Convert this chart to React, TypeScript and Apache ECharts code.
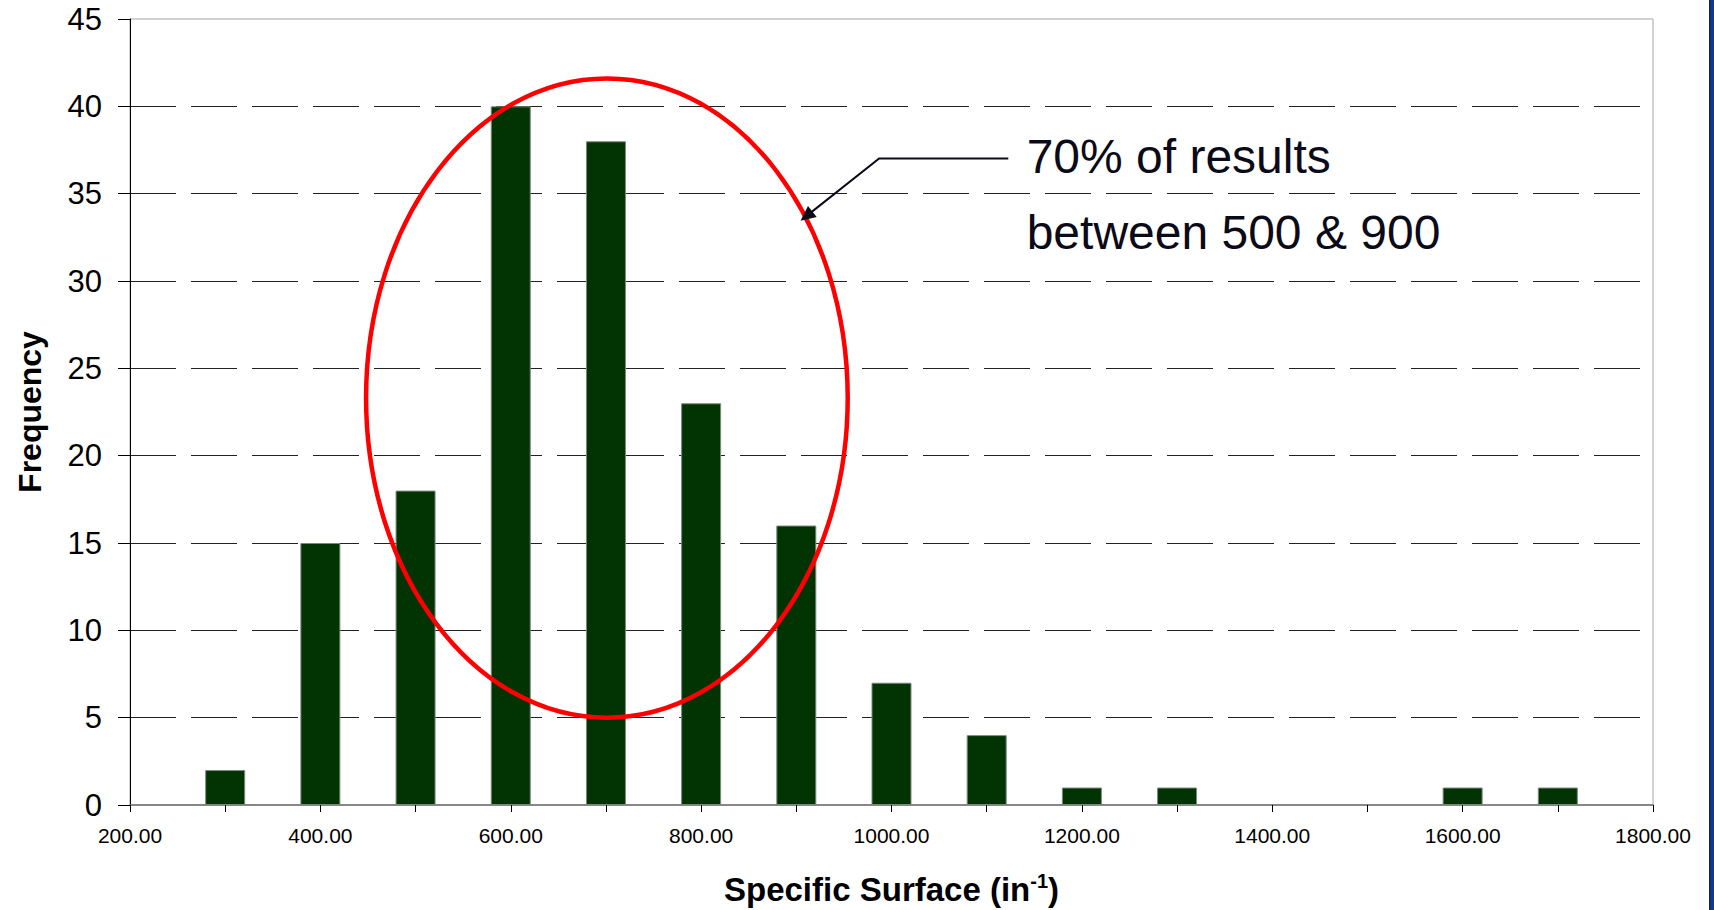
import React, { useEffect, useRef } from "react";
import * as echarts from "echarts";

// ---- data ----
const binCenters = [300, 400, 500, 600, 700, 800, 900, 1000, 1100, 1200, 1300, 1400, 1500, 1600, 1700];
const frequencies = [2, 15, 18, 40, 38, 23, 16, 7, 4, 1, 1, 0, 0, 1, 1];
const xAxisRange = [200, 1800];
const yAxisRange = [0, 45];

// ---- annotation (in data units) ----
const ellipseXRange = [448, 954];
const ellipseYRange = [5.0, 41.6];
const arrowTip = [904.5, 33.45];
const arrowElbow = [987, 37.02];
const arrowEnd = [1122.7, 37.02];
const annotationX = 1142;
const annotationLineY = [37.1, 32.8];
const annotationLines = ["70% of results", "between 500 & 900"];

const FONT = '"Liberation Sans", Arial, Helvetica, sans-serif';

export default function App() {
  const ref = useRef<HTMLDivElement>(null);

  useEffect(() => {
    if (!ref.current) return;
    const chart = echarts.init(ref.current, null, { renderer: "svg" });
    const barData = binCenters
      .map((x, i) => [x, frequencies[i]])
      .filter((d) => d[1] > 0);

    chart.setOption({
      animation: false,
      backgroundColor: "#ffffff",
      textStyle: { fontFamily: FONT, color: "#000" },
      grid: {
        left: 130,
        right: 61,
        top: 19,
        bottom: 105,
        show: true,
        outerBoundsMode: "none",
        containLabel: false,
        borderColor: "#a6a6a6",
        borderWidth: 1,
        backgroundColor: "transparent",
      },
      xAxis: {
        type: "value",
        min: xAxisRange[0],
        max: xAxisRange[1],
        interval: 100,
        name: "{a|Specific Surface (in}{b|-1}{a|)}",
        nameLocation: "middle",
        nameGap: 66,
        nameTextStyle: {
          rich: {
            a: { fontSize: 33, fontWeight: "bold", fontFamily: FONT, color: "#000", lineHeight: 37 },
            b: { fontSize: 20, fontWeight: "bold", fontFamily: FONT, color: "#000", verticalAlign: "top", lineHeight: 22 },
          },
        },
        axisLine: { show: true, lineStyle: { color: "#6e6e6e", width: 1.5 } },
        axisTick: { show: true, length: 7, lineStyle: { color: "#000", width: 1 } },
        axisLabel: {
          fontSize: 21,
          color: "#000",
          margin: 20,
          fontFamily: FONT,
          formatter: (v: number) => (v % 200 === 0 ? v.toFixed(2) : ""),
        },
        splitLine: { show: false },
      },
      yAxis: {
        type: "value",
        min: yAxisRange[0],
        max: yAxisRange[1],
        interval: 5,
        name: "Frequency",
        nameLocation: "middle",
        nameGap: 84,
        nameTextStyle: { fontSize: 32, fontWeight: "bold", color: "#000", fontFamily: FONT },
        axisLine: { show: true, lineStyle: { color: "#000", width: 1 } },
        axisTick: { show: true, length: 12, lineStyle: { color: "#000", width: 1 } },
        axisLabel: { fontSize: 31, color: "#000", margin: 28, fontFamily: FONT },
        splitLine: {
          show: true,
          showMinLine: false,
          showMaxLine: false,
          lineStyle: { color: "#222", width: 1, type: [46, 15] },
        },
      },
      series: [
        {
          type: "bar",
          data: barData,
          barWidth: 40,
          itemStyle: { color: "#023302", borderColor: "#7a8a7a", borderWidth: 1 },
          z: 3,
        },
      ],
    });

    const px = (v: number[]) => chart.convertToPixel({ gridIndex: 0 }, v) as number[];
    const e0 = px([ellipseXRange[0], ellipseYRange[0]]);
    const e1 = px([ellipseXRange[1], ellipseYRange[1]]);
    const tip = px(arrowTip);
    const elbow = px(arrowElbow);
    const end = px(arrowEnd);
    const dx = tip[0] - elbow[0];
    const dy = tip[1] - elbow[1];
    const len = Math.hypot(dx, dy);
    const ux = dx / len;
    const uy = dy / len;
    const headLen = 15;
    const headHalf = 7;
    const baseX = tip[0] - ux * headLen;
    const baseY = tip[1] - uy * headLen;

    const textEls = annotationLines.map((t, i) => {
      const p = px([annotationX, annotationLineY[i]]);
      return {
        type: "text",
        z: 20,
        style: {
          text: t,
          x: p[0],
          y: p[1],
          font: `48px ${FONT}`,
          fill: "#0a0a18",
          align: "left",
          verticalAlign: "middle",
        },
      };
    });

    chart.setOption({
      graphic: [
        {
          type: "ellipse",
          z: 10,
          shape: {
            cx: (e0[0] + e1[0]) / 2,
            cy: (e0[1] + e1[1]) / 2,
            rx: Math.abs(e1[0] - e0[0]) / 2,
            ry: Math.abs(e1[1] - e0[1]) / 2,
          },
          style: { fill: "none", stroke: "#ff0000", lineWidth: 4.5 },
        },
        {
          type: "polyline",
          z: 15,
          shape: { points: [end, elbow, [baseX + ux * 2, baseY + uy * 2]] },
          style: { fill: "none", stroke: "#0a0a18", lineWidth: 2 },
        },
        {
          type: "polygon",
          z: 15,
          shape: {
            points: [
              tip,
              [baseX - uy * headHalf, baseY + ux * headHalf],
              [baseX + uy * headHalf, baseY - ux * headHalf],
            ],
          },
          style: { fill: "#0a0a18", stroke: "none" },
        },
        ...textEls,
        {
          type: "rect",
          z: 30,
          shape: { x: 1710, y: 0, width: 4, height: 910 },
          style: { fill: "#0b3a98" },
        },
        {
          type: "rect",
          z: 31,
          shape: { x: 1709, y: 0, width: 1.5, height: 910 },
          style: { fill: "#1c2438" },
        },
      ],
    });

    return () => chart.dispose();
  }, []);

  return (
    <div
      ref={ref}
      style={{ position: "fixed", left: 0, top: 0, width: 1714, height: 910, background: "#fff" }}
    />
  );
}
